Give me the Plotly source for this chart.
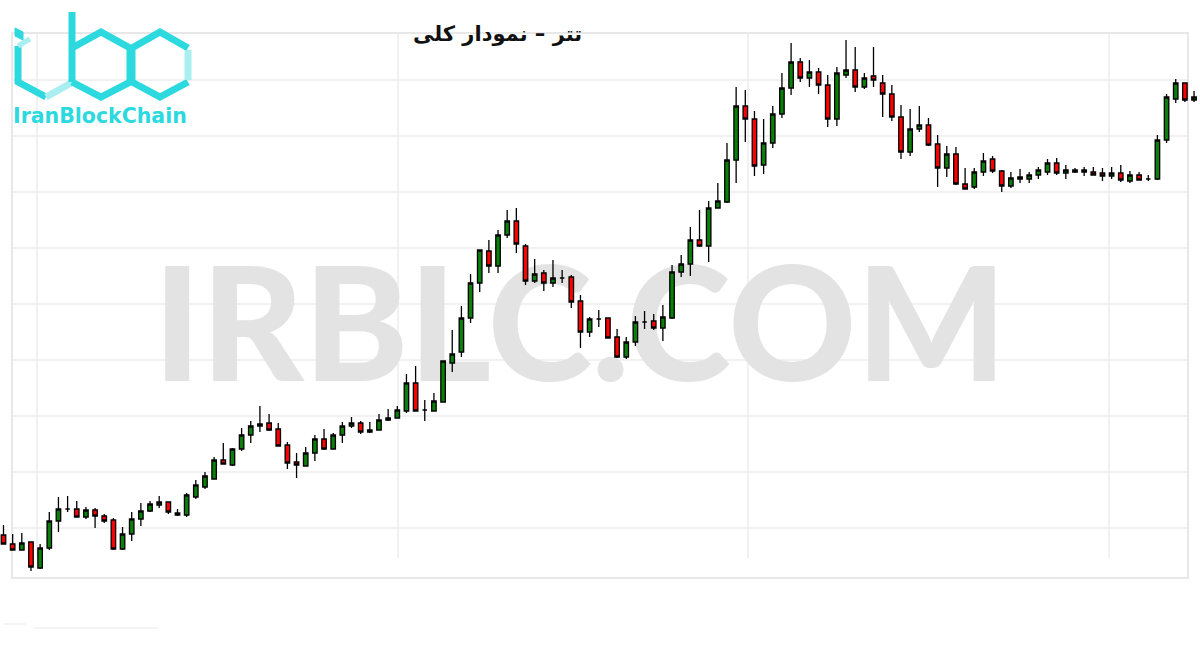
import plotly.graph_objects as go

# ---------------- data (arbitrary price units) ----------------
opens = [65, 56, 50, 58, 32, 52, 79, 91, 91, 83, 90, 84, 80, 51, 66, 81, 89, 95, 98, 87,
         85, 103, 113, 121, 140, 135, 151, 165, 174, 177, 171, 155, 138, 134, 147, 161, 151, 165, 174, 177,
         168, 170, 180, 182, 189, 217, 190, 189, 198, 237, 248, 282, 317, 349, 334, 365, 379, 354, 319, 327,
         317, 322, 323, 299, 268, 281, 282, 263, 243, 258, 278, 279, 272, 282, 328, 336, 360, 354, 392, 398,
         440, 494, 481, 435, 457, 486, 512, 538, 522, 528, 515, 481, 525, 530, 513, 524, 517, 506, 483, 448,
         471, 475, 456, 432, 446, 416, 413, 428, 441, 429, 414, 421, 421, 425, 428, 437, 427, 430, 430, 428,
         427, 424, 427, 419, 425, 421, 421, 460, 501, 517, 500]
highs = [75, 66, 67, 58, 56, 88, 103, 104, 99, 93, 92, 86, 82, 73, 88, 97, 99, 104, 98, 91,
         107, 120, 128, 143, 157, 152, 172, 179, 194, 186, 177, 158, 147, 153, 165, 171, 167, 178, 183, 179,
         178, 186, 191, 194, 226, 234, 200, 207, 239, 270, 294, 326, 350, 360, 370, 390, 392, 356, 341, 330,
         340, 330, 325, 305, 283, 290, 282, 271, 263, 284, 289, 286, 295, 335, 345, 373, 390, 399, 417, 457,
         513, 510, 489, 481, 494, 527, 557, 542, 540, 532, 525, 533, 560, 553, 527, 553, 525, 515, 495, 491,
         494, 482, 465, 454, 453, 432, 432, 447, 444, 430, 428, 431, 428, 433, 441, 442, 435, 432, 433, 433,
         432, 433, 435, 429, 428, 425, 465, 506, 521, 517, 509]
lows = [56, 50, 50, 29, 31, 50, 68, 88, 83, 81, 72, 77, 50, 50, 59, 74, 88, 92, 86, 84,
        83, 101, 111, 121, 136, 134, 149, 157, 168, 169, 154, 131, 122, 134, 139, 150, 151, 157, 172, 166,
        167, 170, 179, 182, 187, 189, 179, 189, 198, 228, 243, 277, 308, 327, 327, 362, 347, 315, 317, 309,
        313, 317, 292, 252, 263, 273, 262, 242, 241, 254, 271, 270, 259, 281, 323, 324, 353, 338, 392, 397,
        417, 458, 424, 426, 452, 482, 505, 518, 513, 506, 473, 474, 522, 508, 511, 513, 483, 479, 441, 444,
        468, 454, 413, 423, 415, 411, 411, 424, 427, 408, 412, 417, 417, 421, 425, 425, 421, 427, 424, 425,
        419, 421, 418, 417, 420, 419, 420, 457, 497, 498, 498]
closes = [56, 50, 57, 33, 52, 79, 91, 91, 83, 90, 84, 79, 51, 66, 81, 89, 96, 98, 88, 85,
          105, 115, 124, 140, 136, 151, 165, 174, 176, 170, 154, 137, 135, 147, 161, 151, 165, 174, 177, 168,
          170, 180, 182, 190, 217, 189, 190, 199, 239, 246, 282, 317, 350, 334, 365, 379, 356, 319, 326, 317,
          322, 322, 298, 268, 281, 281, 262, 243, 258, 278, 278, 272, 283, 328, 336, 360, 354, 392, 399, 440,
          494, 481, 434, 457, 486, 512, 538, 522, 528, 515, 481, 527, 530, 513, 522, 520, 506, 483, 448, 471,
          475, 455, 432, 446, 416, 411, 428, 439, 429, 414, 422, 423, 425, 430, 437, 427, 430, 428, 428, 425,
          424, 427, 420, 425, 420, 421, 460, 503, 517, 500, 503]
periods = list(range(len(opens)))

title_text = "تتر – نمودار کلی"
watermark_text = "IRBLC.COM"
logo_text = "IranBlockChain"

W, H = 1200, 650


def px(x):
    return x / W


def py(y):
    return 1 - y / H


fig = go.Figure()
# watermark on the base axes (drawn first, so the candles on the overlaying axes sit on top)
fig.add_trace(go.Scatter(
    x=[px(580)], y=[py(341)], mode="text", text=[watermark_text],
    textposition="middle center",
    textfont=dict(family="Lato", size=158, color="#e3e3e3", weight=900),
    hoverinfo="skip", showlegend=False, xaxis="x", yaxis="y",
))
fig.add_trace(go.Candlestick(
    x=periods, open=opens, high=highs, low=lows, close=closes,
    increasing=dict(line=dict(color="#000000", width=1.3), fillcolor="#0a7f0a"),
    decreasing=dict(line=dict(color="#000000", width=1.3), fillcolor="#ff0000"),
    whiskerwidth=0, hoverinfo="skip", showlegend=False, xaxis="x2", yaxis="y2",
))

shapes = []
grid_col = "#ededed"
# horizontal grid lines
for gy in [80, 136, 192, 248, 304, 360, 416, 472, 528]:
    shapes.append(dict(type="line", xref="paper", yref="paper", x0=px(12), x1=px(1188), y0=py(gy), y1=py(gy),
                       line=dict(color=grid_col, width=1.5), layer="below"))
# vertical grid lines
for gx in [37, 398, 748, 1109]:
    shapes.append(dict(type="line", xref="paper", yref="paper", x0=px(gx), x1=px(gx), y0=py(33), y1=py(558),
                       line=dict(color=grid_col, width=1.5), layer="below"))
# frame
shapes.append(dict(type="rect", xref="paper", yref="paper", x0=px(12), x1=px(1188), y0=py(578), y1=py(33),
                   line=dict(color="#e8e8e8", width=2), layer="below"))
# faint bits below the frame
shapes.append(dict(type="line", xref="paper", yref="paper", x0=px(34), x1=px(158), y0=py(628), y1=py(628),
                   line=dict(color="#f0f0f0", width=1.5), layer="below"))
shapes.append(dict(type="line", xref="paper", yref="paper", x0=px(4), x1=px(26), y0=py(624), y1=py(624),
                   line=dict(color="#f0f0f0", width=1.5), layer="below"))

# logo hexagons
cyan = "#2cd9df"
pale = "#a9eef1"


def path(points, closed=False):
    s = "M " + " L ".join(f"{px(x):.5f},{py(y):.5f}" for x, y in points)
    return s + (" Z" if closed else "")


def add_path(points, color, width=7, fill=None):
    d = dict(type="path", xref="paper", yref="paper", path=path(points, fill is not None),
             line=dict(color=color, width=width), layer="above")
    if fill is not None:
        d["fillcolor"] = fill
    shapes.append(d)

# i
add_path([(15, 28), (23, 32), (23, 40), (15, 36)], cyan, 1, fill=cyan)
add_path([(18, 46), (18, 82), (46, 97)], cyan)
add_path([(46, 97), (73, 82)], pale)
add_path([(18, 46), (30, 39)], pale, 5)
# b
add_path([(72, 12), (72, 82)], cyan)
add_path([(72, 48), (101, 32), (130, 48), (130, 82), (101, 97), (72, 82)], cyan)
# c
add_path([(188, 48), (160, 32), (132, 48), (132, 82), (160, 97), (188, 82)], cyan)
add_path([(188, 50), (188, 80)], pale)

fig.update_layout(
    width=W, height=H,
    margin=dict(l=0, r=0, t=0, b=0),
    paper_bgcolor="white", plot_bgcolor="rgba(0,0,0,0)",
    xaxis=dict(range=[0, 1], visible=False, fixedrange=True),
    yaxis=dict(range=[0, 1], visible=False, fixedrange=True),
    xaxis2=dict(range=[-0.382, 130.65], visible=False, rangeslider=dict(visible=False), fixedrange=True,
                overlaying="x", anchor="y2"),
    yaxis2=dict(range=[-50, 600], visible=False, fixedrange=True, overlaying="y", anchor="x2"),
    shapes=shapes,
    annotations=[
        dict(text="<b>" + title_text + "</b>", xref="paper", yref="paper", x=px(497), y=py(34),
             xanchor="center", yanchor="middle", showarrow=False,
             font=dict(family="DejaVu Sans", size=21, color="#111111")),
        dict(text="<b>" + logo_text + "</b>", xref="paper", yref="paper", x=px(100), y=py(116),
             xanchor="center", yanchor="middle", showarrow=False,
             font=dict(family="DejaVu Sans", size=20.5, color=cyan)),
    ],
)

fig.write_html("out.html", config=dict(displayModeBar=False),
               post_script="document.body.style.margin='0';")
